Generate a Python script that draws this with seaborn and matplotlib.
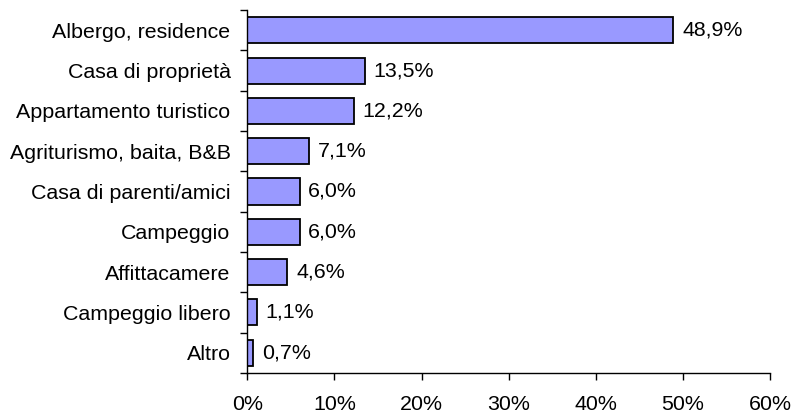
import matplotlib
matplotlib.use("Agg")
import matplotlib.pyplot as plt
import seaborn as sns
import pandas as pd
from matplotlib.ticker import FixedLocator, FuncFormatter

categories = [
    "Albergo, residence",
    "Casa di proprietà",
    "Appartamento turistico",
    "Agriturismo, baita, B&B",
    "Casa di parenti/amici",
    "Campeggio",
    "Affittacamere",
    "Campeggio libero",
    "Altro",
]
values = [48.9, 13.5, 12.2, 7.1, 6.0, 6.0, 4.6, 1.1, 0.7]
x_ticks = [0, 10, 20, 30, 40, 50, 60]

df = pd.DataFrame({"categoria": categories, "valore": values})

sns.set_style("white")
plt.rcParams["font.family"] = ["Liberation Sans", "DejaVu Sans"]
plt.rcParams["text.color"] = "black"
plt.rcParams["xtick.labelcolor"] = "black"
plt.rcParams["ytick.labelcolor"] = "black"

FS = 15.4

fig = plt.figure(figsize=(7.95, 4.12), dpi=100)
ax = fig.add_axes([0.311, 0.0947, 0.6576, 0.881])

sns.barplot(data=df, x="valore", y="categoria", orient="h", color="#9999FF",
            saturation=1, edgecolor="black", linewidth=1.3, width=0.645, ax=ax)

# value labels to the right of each bar
for i, v in enumerate(values):
    ax.text(v + 1.0, i, f"{v:.1f}%".replace(".", ","), va="center", ha="left",
            fontsize=FS, color="black")

ax.set_xlim(0, 60)
ax.set_ylim(len(categories) - 0.5, -0.5)
ax.set_xlabel("")
ax.set_ylabel("")

ax.xaxis.set_major_locator(FixedLocator(x_ticks))
ax.xaxis.set_major_formatter(FuncFormatter(lambda x, p: f"{int(x)}%"))
ax.tick_params(axis="x", direction="out", length=5, width=1, color="black",
               labelsize=FS, pad=10.5, bottom=True)

# category labels without ticks; ticks sit on the boundaries between categories
ax.tick_params(axis="y", which="major", length=0, labelsize=FS, pad=12)
ax.yaxis.set_minor_locator(FixedLocator([k - 0.5 for k in range(len(categories) + 1)]))
ax.tick_params(axis="y", which="minor", direction="out", length=5, width=1,
               color="black", left=True)

for side in ["top", "right"]:
    ax.spines[side].set_visible(False)
for side in ["left", "bottom"]:
    ax.spines[side].set_color("black")
    ax.spines[side].set_linewidth(1)

fig.savefig("out.png", dpi=100)
